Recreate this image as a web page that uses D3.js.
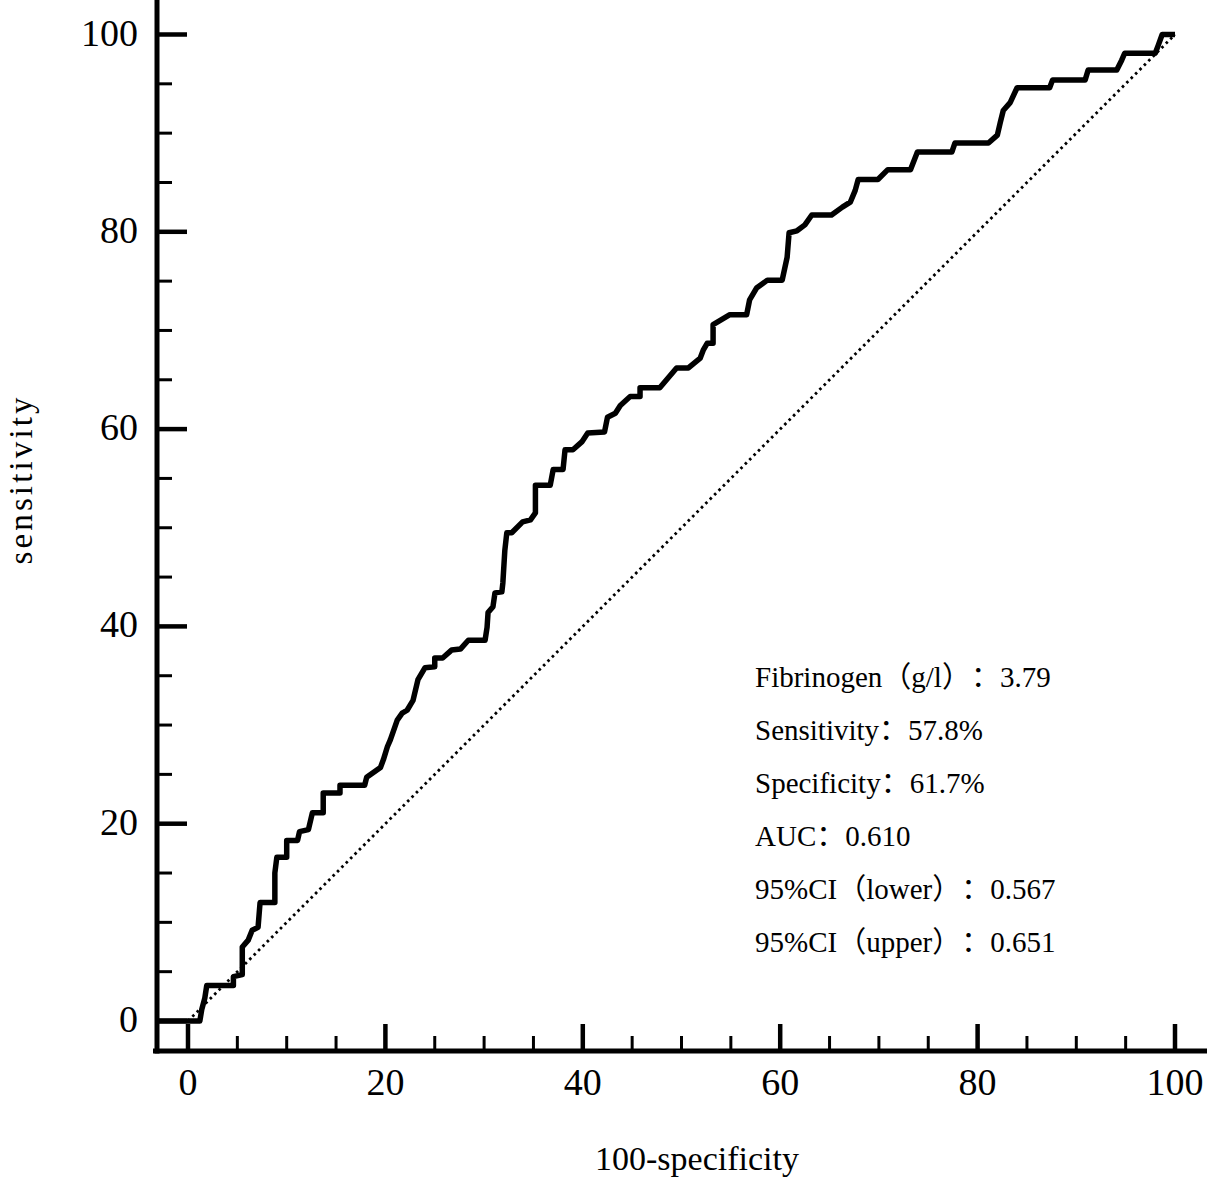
<!DOCTYPE html>
<html>
<head>
<meta charset="utf-8">
<script src="https://cdn.jsdelivr.net/npm/d3@7.9.0/dist/d3.min.js"></script>
<style>
  html, body { margin: 0; padding: 0; background: #fff; }
  svg { display: block; }
  text { font-family: "Liberation Serif", "Noto Sans CJK SC", serif; fill: #000; }
  /* keep full-width brackets/colons at full width, like the original */
  text.stat { text-spacing-trim: space-all; font-feature-settings: "chws" 0, "halt" 0; }
</style>
</head>
<body>
<svg id="roc" width="1211" height="1182"></svg>
<script>
// ROC curve points (100-specificity, sensitivity)
const fprValues = [-3.3, 1.2, 1.4, 1.7, 1.9, 4.6, 4.6, 5.5, 5.5, 6.1, 6.5, 7.1, 7.3, 8.8, 8.8, 9.0, 10.0, 10.0,
  11.1, 11.3, 12.2, 12.6, 13.7, 13.7, 15.4, 15.4, 17.9, 18.1, 19.5, 19.8, 20.2, 20.5, 21.2, 21.7, 22.2, 22.8,
  23.3, 24.0, 25.0, 25.0, 25.8, 26.7, 27.6, 28.4, 30.1, 30.3, 30.4, 30.9, 31.1, 31.8, 31.9, 32.1, 32.3, 32.8,
  33.9, 34.7, 35.2, 35.2, 36.7, 37.0, 38.0, 38.2, 39.0, 39.9, 40.5, 42.2, 42.5, 43.3, 43.8, 44.8, 45.8, 45.8,
  47.8, 49.5, 50.7, 51.9, 52.2, 52.6, 53.2, 53.2, 54.9, 56.6, 56.9, 57.6, 58.7, 60.2, 60.7, 60.9, 61.7, 62.5,
  63.2, 65.2, 66.3, 67.1, 67.6, 67.9, 69.9, 70.9, 73.2, 73.9, 77.4, 77.7, 81.1, 82.0, 82.3, 82.6, 83.3, 84.0,
  87.3, 87.6, 90.9, 91.2, 94.1, 94.6, 94.9, 98.0, 98.3, 98.7, 100];
const tprValues = [0, 0, 1.2, 2.3, 3.6, 3.6, 4.5, 4.7, 7.5, 8.2, 9.2, 9.5, 12.0, 12.0, 15.0, 16.6, 16.6, 18.3,
  18.3, 19.2, 19.4, 21.1, 21.1, 23.1, 23.1, 23.9, 23.9, 24.7, 25.7, 26.5, 27.8, 28.5, 30.5, 31.2, 31.5, 32.5,
  34.6, 35.8, 35.9, 36.8, 36.8, 37.6, 37.7, 38.6, 38.6, 39.9, 41.4, 42.0, 43.4, 43.5, 44.4, 47.7, 49.5, 49.5,
  50.6, 50.8, 51.5, 54.3, 54.3, 55.9, 55.9, 57.9, 57.9, 58.7, 59.6, 59.7, 61.2, 61.6, 62.4, 63.3, 63.3, 64.2,
  64.2, 66.2, 66.2, 67.2, 68.0, 68.7, 68.7, 70.6, 71.6, 71.6, 73.1, 74.3, 75.1, 75.1, 77.4, 79.9, 80.1, 80.7,
  81.7, 81.7, 82.5, 83.0, 84.2, 85.3, 85.3, 86.3, 86.3, 88.1, 88.1, 89.0, 89.0, 89.8, 91.1, 92.3, 93.1, 94.6,
  94.6, 95.4, 95.4, 96.4, 96.4, 97.4, 98.1, 98.1, 98.9, 100, 100];

// ticks every 5, labels every 20
const tickValues = d3.range(0, 101, 5);
const labelValues = [0, 20, 40, 60, 80, 100];

// stats box text
const statLines = [
  "Fibrinogen（g/l）：3.79",
  "Sensitivity：57.8%",
  "Specificity：61.7%",
  "AUC：0.610",
  "95%CI（lower）：0.567",
  "95%CI（upper）：0.651"
];

const svg = d3.select('#roc');

const x = d3.scaleLinear().domain([0, 100]).range([188, 1175]);
const y = d3.scaleLinear().domain([0, 100]).range([1021, 34.5]);

const axisX = 157;   // y axis line position
const axisY = 1051;  // x axis line position

/* diagonal reference line */
svg.append('line')
  .attr('x1', x(0)).attr('y1', y(0))
  .attr('x2', x(100)).attr('y2', y(100))
  .attr('stroke', '#000')
  .attr('stroke-width', 2.8)
  .attr('stroke-dasharray', '2.6 3.6');

/* roc curve */
const points = fprValues.map((f, i) => [f, tprValues[i]]);
const line = d3.line().x(d => x(d[0])).y(d => y(d[1]));
svg.append('path')
  .datum(points)
  .attr('d', line)
  .attr('fill', 'none')
  .attr('stroke', '#000')
  .attr('stroke-width', 5.5)
  .attr('stroke-linejoin', 'round');

/* axis lines */
svg.append('line')
  .attr('x1', axisX).attr('x2', axisX)
  .attr('y1', 0).attr('y2', axisY + 2.5)
  .attr('stroke', '#000').attr('stroke-width', 5);
svg.append('line')
  .attr('x1', axisX - 4).attr('x2', 1207)
  .attr('y1', axisY).attr('y2', axisY)
  .attr('stroke', '#000').attr('stroke-width', 5);

/* ticks point inward */
const isMajor = v => v % 20 === 0;

svg.selectAll('line.ytick')
  .data(tickValues)
  .enter().append('line')
    .attr('class', 'ytick')
    .attr('x1', axisX)
    .attr('x2', d => axisX + (isMajor(d) ? 30 : 15))
    .attr('y1', d => y(d)).attr('y2', d => y(d))
    .attr('stroke', '#000')
    .attr('stroke-width', d => isMajor(d) ? 4.5 : 3);

svg.selectAll('line.xtick')
  .data(tickValues)
  .enter().append('line')
    .attr('class', 'xtick')
    .attr('x1', d => x(d)).attr('x2', d => x(d))
    .attr('y1', axisY)
    .attr('y2', d => axisY - (isMajor(d) ? 27 : 15))
    .attr('stroke', '#000')
    .attr('stroke-width', d => isMajor(d) ? 4.5 : 3);

/* tick labels */
svg.selectAll('text.ylab')
  .data(labelValues)
  .enter().append('text')
    .attr('class', 'ylab')
    .attr('x', 138)
    .attr('y', d => y(d) + 11)
    .attr('text-anchor', 'end')
    .style('font-size', '38px')
    .text(d => d);

svg.selectAll('text.xlab')
  .data(labelValues)
  .enter().append('text')
    .attr('class', 'xlab')
    .attr('x', d => x(d))
    .attr('y', 1095)
    .attr('text-anchor', 'middle')
    .style('font-size', '38px')
    .text(d => d);

/* axis titles */
svg.append('text')
  .attr('x', 697).attr('y', 1170)
  .attr('text-anchor', 'middle')
  .style('font-size', '34px')
  .text('100-specificity');

svg.append('text')
  .attr('transform', 'translate(32,481) rotate(-90)')
  .attr('text-anchor', 'middle')
  .attr('textLength', 167)
  .attr('lengthAdjust', 'spacing')
  .style('font-size', '33px')
  .text('sensitivity');

/* stats text */
svg.selectAll('text.stat')
  .data(statLines)
  .enter().append('text')
    .attr('class', 'stat')
    .attr('x', 755)
    .attr('y', (_, i) => 687 + i * 53)
    .style('font-size', '29px')
    .text(d => d);
</script>
</body>
</html>
